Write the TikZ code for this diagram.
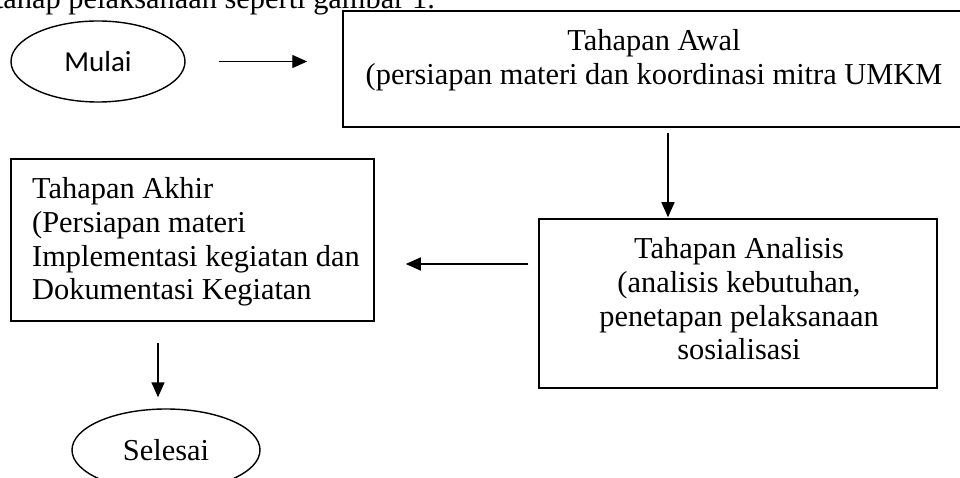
\documentclass[tikz,border=0pt]{standalone}
\usepackage{fontspec}
\setmainfont{Liberation Serif}
\newfontfamily\calfont{Carlito}
\usetikzlibrary{shapes.geometric,arrows.meta}
\tikzset{
  stagebox/.style={draw, line width=1.5pt, rectangle, inner sep=0pt},
  termell/.style={draw, line width=1.4pt, ellipse, inner sep=0pt},
  bodytxt/.style={inner sep=0pt, font=\fontsize{30.4}{33.8}\selectfont},
  flow/.style={line width=1.4pt, -{Triangle[length=15pt,width=13pt]}}
}
\begin{document}
\begin{tikzpicture}[x=1pt,y=-1pt]
\useasboundingbox (0,0) rectangle (960,478);
% sentence cut at the top
\node[bodytxt, anchor=base east] (intro) at (435,9) {tahap pelaksanaan seperti gambar 1.};
% shapes
\node[termell, minimum width=174pt, minimum height=81pt, font=\calfont\fontsize{29}{33}\selectfont] (mulai) at (98,61.5) {Mulai};
\node[stagebox, minimum width=625pt, minimum height=116pt] (awal) at (655.5,69) {};
\node[stagebox, minimum width=398pt, minimum height=169pt] (analisis) at (738,303.5) {};
\node[stagebox, minimum width=363pt, minimum height=162pt] (akhir) at (192.5,240) {};
\node[termell, minimum width=188pt, minimum height=82pt, font=\fontsize{30.4}{33.8}\selectfont] (selesai) at (166,450) {Selesai};
% box texts
\node[bodytxt, align=center, anchor=north] (awaltxt) at (654,29.2)
  {Tahapan Awal\\(persiapan materi dan koordinasi mitra UMKM};
\node[bodytxt, align=center, anchor=north] (analisistxt) at (739,237.2)
  {Tahapan Analisis\\(analisis kebutuhan,\\penetapan pelaksanaan\\sosialisasi};
\node[bodytxt, align=left, anchor=north west] (akhirtxt) at (32,177.2)
  {Tahapan Akhir\\(Persiapan materi\\Implementasi kegiatan dan\\Dokumentasi Kegiatan};
% helper coordinates
\coordinate (cx) at (668,0);
\coordinate (cy) at (0,264);
\coordinate (cz) at (158,0);
% connectors
\draw[flow, shorten <=33pt, shorten >=35pt] (mulai.east) -- (mulai.east -| awal.west);
\draw[flow, shorten <=5pt, shorten >=1pt] (awal.south -| cx) -- (analisis.north -| cx);
\draw[flow, shorten <=10pt, shorten >=31pt] (analisis.west |- cy) -- (akhir.east |- cy);
\draw[flow, shorten <=21pt, shorten >=11pt] (akhir.south -| cz) -- (selesai.north -| cz);
\end{tikzpicture}
\end{document}
